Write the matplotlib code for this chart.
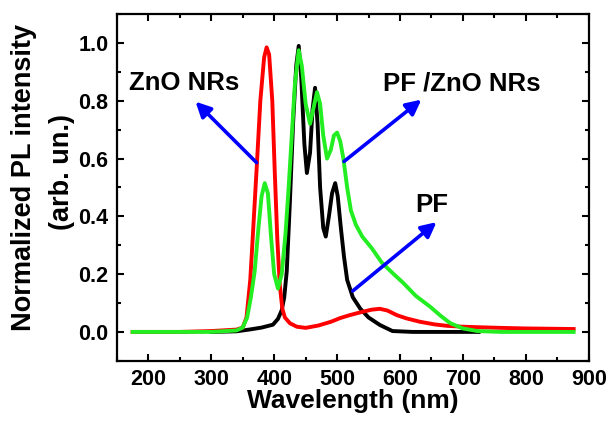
import matplotlib
matplotlib.use('Agg')
import matplotlib.pyplot as plt
from matplotlib.ticker import MultipleLocator

plt.rcParams['font.family'] = ['Liberation Sans', 'DejaVu Sans']
plt.rcParams['font.weight'] = 'bold'

# ZnO NRs (red)
wl_zno = [175, 250, 300, 340, 350, 356, 362, 366, 372, 378, 384, 388, 392, 397, 401,
          405, 409, 413, 417, 425, 436, 450, 470, 490, 505, 520, 541, 555, 568, 580,
          595, 610, 632, 655, 675, 700, 728, 760, 800, 840, 876]
pl_zno = [0, 0, 0.003, 0.008, 0.015, 0.05, 0.18, 0.33, 0.56, 0.80, 0.95, 0.985, 0.96,
          0.80, 0.55, 0.32, 0.16, 0.08, 0.05, 0.03, 0.018, 0.014, 0.022, 0.035, 0.048,
          0.058, 0.07, 0.077, 0.08, 0.074, 0.058, 0.047, 0.035, 0.026, 0.021, 0.018,
          0.016, 0.014, 0.012, 0.011, 0.01]

# PF (black)
wl_pf = [300, 340, 360, 380, 398, 406, 412, 416, 420, 425, 430, 435, 439, 443, 448,
         452, 457, 461, 465, 469, 473, 478, 482, 487, 492, 497, 501, 506, 511, 516,
         525, 537, 550, 568, 588, 620, 680, 725]
pl_pf = [0, 0.002, 0.008, 0.015, 0.025, 0.045, 0.075, 0.12, 0.21, 0.45, 0.72, 0.92,
         0.99, 0.88, 0.65, 0.55, 0.62, 0.77, 0.845, 0.72, 0.5, 0.36, 0.33, 0.4, 0.48,
         0.515, 0.47, 0.36, 0.26, 0.18, 0.12, 0.08, 0.05, 0.024, 0.003, 0, 0, 0]

# PF/ZnO NRs (green)
wl_mix = [175, 250, 300, 340, 350, 357, 363, 369, 375, 380, 385, 390, 395, 400, 406,
          412, 418, 423, 428, 433, 439, 444, 450, 457, 462, 468, 473, 478, 484, 490,
          495, 500, 505, 510, 516, 522, 530, 540, 555, 571, 590, 605, 625, 648, 665,
          680, 700, 723, 760, 800, 840, 876]
pl_mix = [0, 0, 0, 0.005, 0.015, 0.05, 0.12, 0.21, 0.36, 0.47, 0.515, 0.48, 0.33,
          0.2, 0.15, 0.2, 0.34, 0.5, 0.68, 0.86, 0.975, 0.92, 0.79, 0.72, 0.77, 0.83,
          0.79, 0.68, 0.60, 0.63, 0.68, 0.69, 0.66, 0.6, 0.5, 0.42, 0.37, 0.33, 0.29,
          0.24, 0.2, 0.17, 0.125, 0.087, 0.055, 0.03, 0.012, 0.003, 0, 0, 0, 0]

fig = plt.figure(figsize=(6.12, 4.28), dpi=100)
ax = fig.add_axes([0.191, 0.157, 0.771, 0.81])

ax.plot(wl_pf, pl_pf, color='black', lw=2.8)
ax.plot(wl_zno, pl_zno, color='#ff0000', lw=2.8)
ax.plot(wl_mix, pl_mix, color='#22ee22', lw=2.8)

arrow = dict(arrowstyle='-|>,head_length=0.9,head_width=0.45', color='#0000ff',
             lw=2.6, shrinkA=0, shrinkB=0)
ax.annotate('', xy=(275, 0.797), xytext=(372, 0.586), arrowprops=arrow)
ax.annotate('', xy=(634, 0.804), xytext=(511, 0.59), arrowprops=arrow)
ax.annotate('', xy=(658, 0.38), xytext=(525, 0.142), arrowprops=arrow)

ax.text(257, 0.86, 'ZnO NRs', fontsize=18.5, fontweight='bold', ha='center', va='center')
ax.text(698, 0.86, 'PF /ZnO NRs', fontsize=18.5, fontweight='bold', ha='center', va='center')
ax.text(651, 0.44, 'PF', fontsize=18.5, fontweight='bold', ha='center', va='center')

ax.set_xlim(150, 900)
ax.set_ylim(-0.1, 1.1)
ax.xaxis.set_major_locator(MultipleLocator(100))
ax.xaxis.set_minor_locator(MultipleLocator(50))
ax.yaxis.set_major_locator(MultipleLocator(0.2))
ax.yaxis.set_minor_locator(MultipleLocator(0.1))
ax.yaxis.set_major_formatter(plt.FuncFormatter(lambda v, p: f'{v:.1f}'))
ax.tick_params(which='both', direction='in', top=True, right=True, width=1.5,
               labelsize=15.5, pad=6)
ax.tick_params(which='major', length=5)
ax.tick_params(which='minor', length=3)
for lab in ax.get_xticklabels() + ax.get_yticklabels():
    lab.set_fontweight('bold')
for s in ax.spines.values():
    s.set_linewidth(1.6)

ax.set_xlabel('Wavelength (nm)', fontsize=19, fontweight='bold', labelpad=-1)
fig.text(0.040, 0.585, 'Normalized PL intensity', rotation=90, fontsize=19.5,
         fontweight='bold', ha='center', va='center')
fig.text(0.101, 0.598, '(arb. un.)', rotation=90, fontsize=19.5,
         fontweight='bold', ha='center', va='center')

fig.savefig('out.png', dpi=100)
